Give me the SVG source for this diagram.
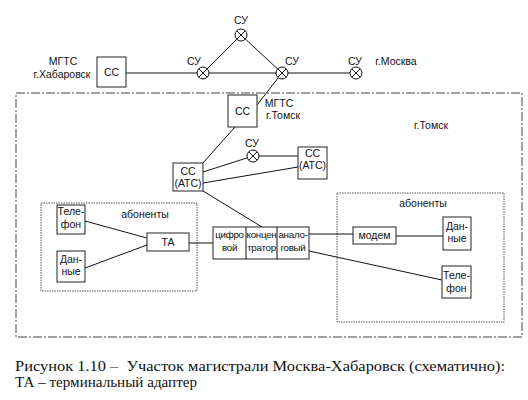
<svg xmlns="http://www.w3.org/2000/svg" width="528" height="400" viewBox="0 0 528 400">
<style>
.t{font-family:"Liberation Sans",Arial,sans-serif;font-size:10.5px;fill:#111;text-anchor:middle}
.s{font-size:9.8px;letter-spacing:-0.3px}
.cap{font-family:"Liberation Serif","Times New Roman",serif;font-size:14px;fill:#111}
.box{fill:#fff;stroke:#222;stroke-width:1}
.ln{stroke:#111;stroke-width:1;fill:none}
.su{fill:#fff;stroke:#111;stroke-width:1}
.dot{fill:none;stroke:#555;stroke-width:1;stroke-dasharray:1.5 1}
.dd{fill:none;stroke:#444;stroke-width:1;stroke-dasharray:9 2 2 2}
</style>
<defs>
<g id="x"><circle class="su" r="6"/><path class="ln" d="M-4.2,-4.2L4.2,4.2M-4.2,4.2L4.2,-4.2"/></g>
</defs>
<rect width="528" height="400" fill="#fff"/>
<rect class="dd" x="16" y="93" width="506" height="244"/>
<rect class="dot" x="41" y="203" width="156" height="88"/>
<rect class="dot" x="337" y="193" width="167" height="129"/>
<g id="connectors">
<line class="ln" x1="126" y1="73" x2="282" y2="73"/>
<line class="ln" x1="203" y1="73" x2="241" y2="35"/>
<line class="ln" x1="241" y1="35" x2="282" y2="73"/>
<line x1="282" y1="73" x2="356" y2="73" stroke="#888" stroke-width="2"/>
<line class="ln" x1="282" y1="73" x2="257" y2="105"/>
<line class="ln" x1="235" y1="127" x2="202" y2="164"/>
<line class="ln" x1="203" y1="172" x2="253" y2="156"/>
<line class="ln" x1="253" y1="156" x2="298" y2="156"/>
<line class="ln" x1="203" y1="183" x2="298" y2="167"/>
<line class="ln" x1="203" y1="191" x2="262" y2="227"/>
<line class="ln" x1="85" y1="221" x2="147" y2="238"/>
<line class="ln" x1="85" y1="268" x2="147" y2="245"/>
<line class="ln" x1="189" y1="243" x2="213" y2="243"/>
<line class="ln" x1="309" y1="234" x2="353" y2="234"/>
<line class="ln" x1="396" y1="236" x2="443" y2="236"/>
<line class="ln" x1="309" y1="251" x2="442" y2="280"/>
</g>
<g id="cc-khab"><rect class="box" x="97" y="57" width="29" height="30"/><text class="t" x="111.5" y="76">СС</text></g>
<g id="label-khab"><text class="t" x="63" y="65">МГТС</text><text class="t" x="62" y="78">г.Хабаровск</text></g>
<g id="su1"><use href="#x" x="203" y="73"/><text class="t" x="194" y="65">СУ</text></g>
<g id="su2"><use href="#x" x="241" y="35"/><text class="t" x="241" y="24">СУ</text></g>
<g id="su3"><use href="#x" x="282" y="73"/><text class="t" x="292" y="65">СУ</text></g>
<g id="su4"><use href="#x" x="356" y="73"/><text class="t" x="355" y="65">СУ</text></g>
<g id="moscow"><text class="t" x="396" y="65">г.Москва</text></g>
<g id="cc-tomsk"><rect class="box" x="228" y="95" width="29" height="32"/><text class="t" x="242.5" y="115">СС</text></g>
<g id="label-tomsk"><text class="t" x="279" y="107">МГТС</text><text class="t" x="283" y="119">г.Томск</text></g>
<g id="tomsk"><text class="t" x="431" y="129">г.Томск</text></g>
<g id="cc-ats1"><rect class="box" x="173" y="163" width="30" height="28"/><text class="t" x="188" y="175">СС</text><text class="t" x="188" y="187">(АТС)</text></g>
<g id="su5"><use href="#x" x="253" y="156"/><text class="t" x="252" y="147">СУ</text></g>
<g id="cc-ats2"><rect class="box" x="298" y="147" width="29" height="32"/><text class="t" x="312.5" y="157">СС</text><text class="t" x="312.5" y="169">(АТС)</text></g>
<g id="ab-left"><text class="t" x="145" y="218">абоненты</text></g>
<g id="tel-left"><rect class="box" x="57" y="205" width="28" height="29"/><text class="t" x="71" y="215">Теле-</text><text class="t" x="71" y="228">фон</text></g>
<g id="data-left"><rect class="box" x="57" y="251" width="28" height="31"/><text class="t" x="71" y="263">Дан-</text><text class="t" x="71" y="275">ные</text></g>
<g id="ta"><rect class="box" x="147" y="233" width="42" height="18"/><text class="t" x="168" y="246">ТА</text></g>
<g id="conc">
<rect class="box" x="213" y="227" width="96" height="32"/>
<line class="ln" x1="246" y1="227" x2="246" y2="259"/>
<line class="ln" x1="277" y1="227" x2="277" y2="259"/>
<text class="t s" x="229.5" y="238">цифро</text><text class="t s" x="229.5" y="251">вой</text>
<text class="t s" x="261.5" y="238">концен</text><text class="t s" x="261.5" y="251">тратор</text>
<text class="t s" x="293" y="238">анало-</text><text class="t s" x="293" y="251">говый</text>
</g>
<g id="ab-right"><text class="t" x="423" y="207">абоненты</text></g>
<g id="modem"><rect class="box" x="353" y="227" width="43" height="17"/><text class="t" x="374.5" y="239">модем</text></g>
<g id="data-right"><rect class="box" x="443" y="217" width="28" height="33"/><text class="t" x="457" y="230">Дан-</text><text class="t" x="457" y="242">ные</text></g>
<g id="tel-right"><rect class="box" x="442" y="266" width="29" height="32"/><text class="t" x="456.5" y="279">Теле-</text><text class="t" x="456.5" y="292">фон</text></g>
<g id="caption">
<text class="cap" x="15" y="371" xml:space="preserve" textLength="490" lengthAdjust="spacingAndGlyphs">Рисунок 1.10 –  Участок магистрали Москва-Хабаровск (схематично):</text>
<text class="cap" x="15" y="387" textLength="182" lengthAdjust="spacingAndGlyphs">ТА – терминальный адаптер</text>
</g>
</svg>
